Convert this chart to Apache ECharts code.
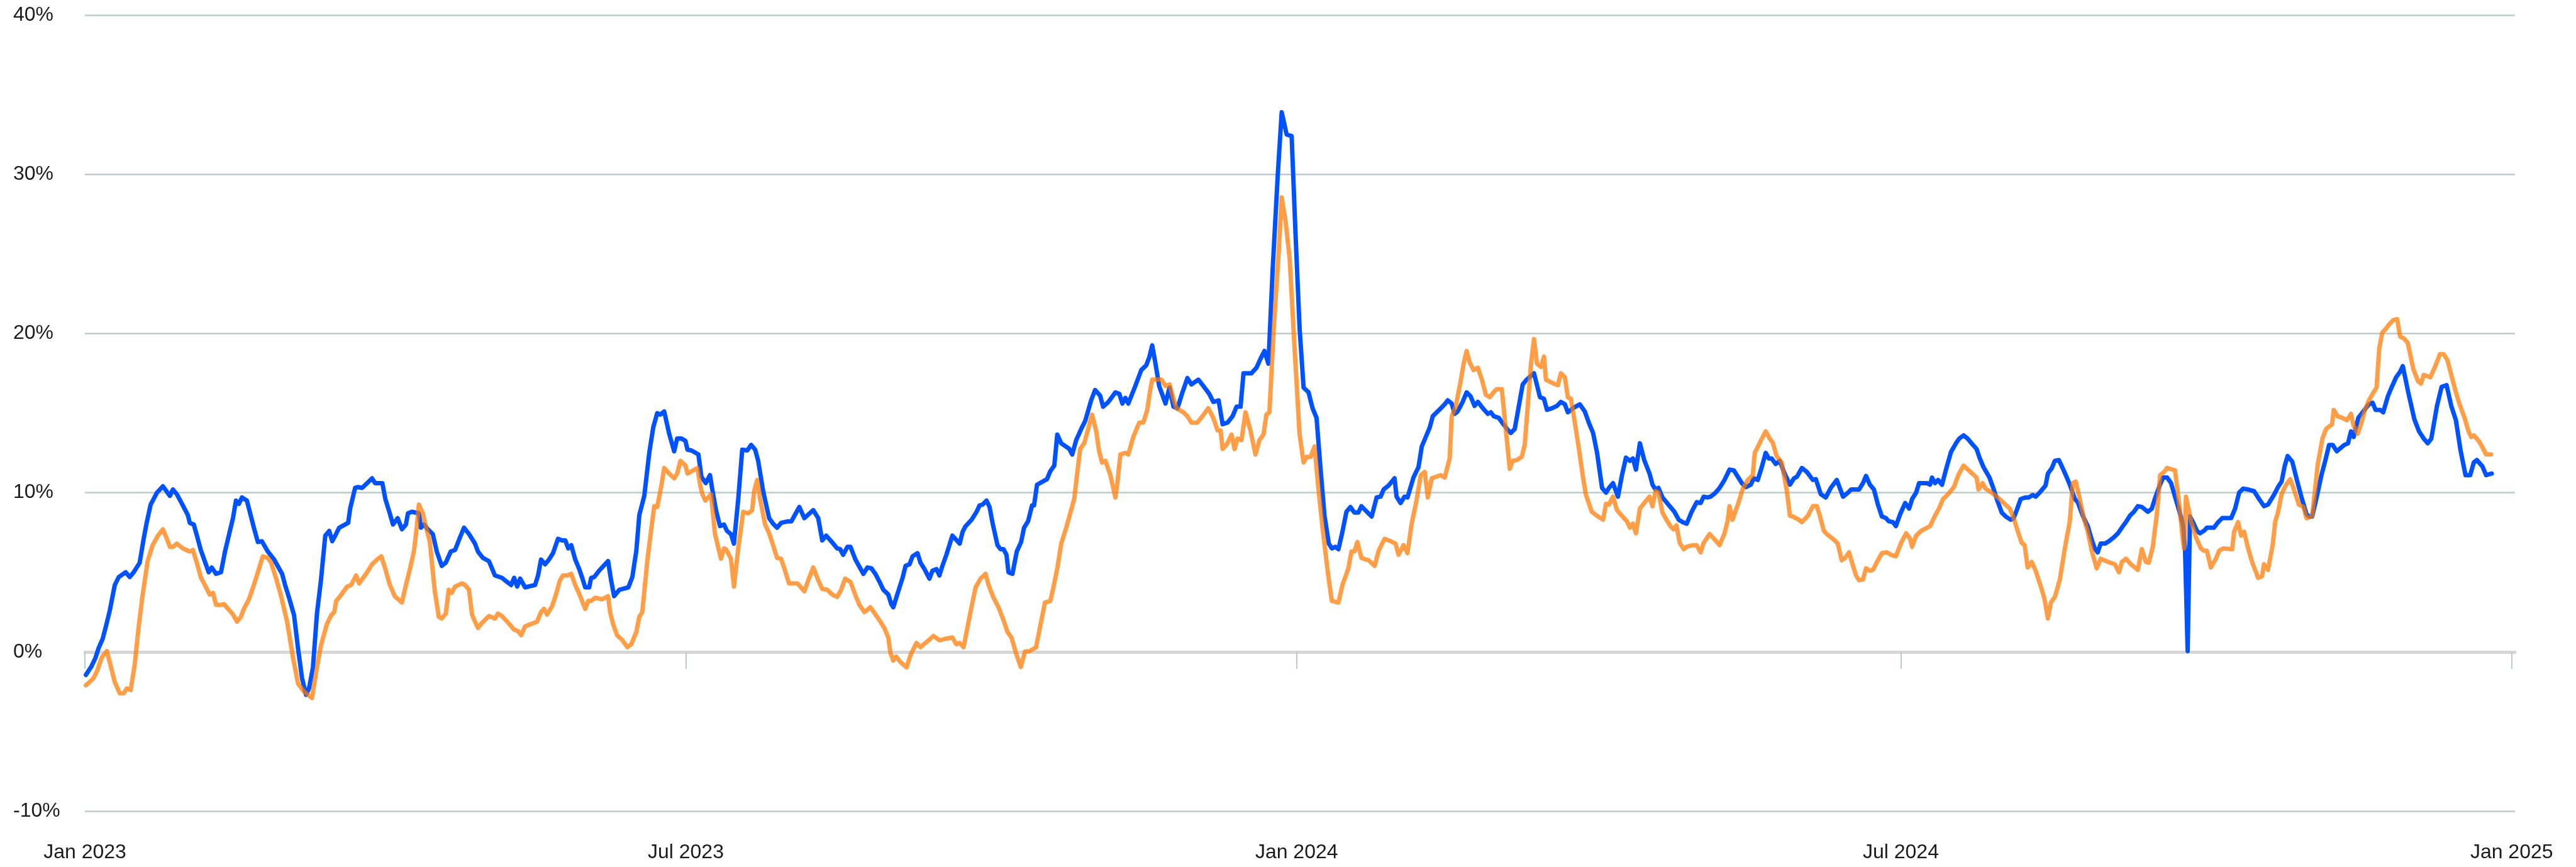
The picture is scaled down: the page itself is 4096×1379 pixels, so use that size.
<!DOCTYPE html>
<html lang="en">
<head>
<meta charset="UTF-8">
<script src="https://cdn.jsdelivr.net/npm/echarts@6/dist/echarts.min.js"></script>
<style>
    html, body {
        margin: 0;
        width: 100%;
        height: 100%;
        background: #fff;
    }
    #main {
        width: 4096px;
        height: 1379px;
    }
</style>
</head>
<body>
<div id="main"></div>

<script type="text/javascript">
    // x values are days counted from 1 Jan 2023
    const tickDays = [0, 181, 365, 547, 731];
    const tickLabels = ['Jan 2023', 'Jul 2023', 'Jan 2024', 'Jul 2024', 'Jan 2025'];

    // [day, percent]
    const blueSeries = [
        [0.3,-1.45],[2.0,-0.9],[3.2,-0.37],[4.1,0.22],[5.35,0.82],[6.3,1.58],[7.5,2.6],[9.0,4.2],[10.2,4.7],[12.3,5.0],[13.5,4.7],[14.7,5.0],[16.5,5.6],[17.7,7.1],[18.6,8.1],[19.8,9.25],[21.7,10.0],[23.5,10.4],[25.6,9.8],[26.5,10.2],[27.7,9.9],[29.5,9.2],[31.0,8.6],[31.6,8.1],[32.8,8.0],[34.0,7.1],[34.9,6.4],[37.3,5.0],[38.2,5.3],[39.5,4.9],[41.0,5.0],[42.2,6.3],[44.6,8.4],[45.5,9.5],[46.4,9.3],[47.3,9.7],[48.8,9.5],[50.9,7.8],[52.1,6.9],[53.3,6.95],[55.1,6.3],[57.0,5.8],[59.4,4.9],[60.3,4.2],[61.5,3.4],[63.0,2.3],[64.2,0.22],[65.4,-1.65],[66.6,-2.7],[67.5,-2.3],[68.7,-0.97],[69.9,2.4],[71.1,4.5],[72.4,7.3],[73.6,7.6],[74.5,6.95],[75.4,7.3],[76.6,7.8],[79.3,8.1],[79.9,9.0],[81.4,10.3],[82.3,10.35],[83.5,10.3],[85.0,10.6],[86.5,10.9],[87.4,10.6],[89.6,10.6],[90.5,9.6],[91.7,8.8],
        [92.8,8.0],[94.2,8.4],[95.5,7.7],[96.7,8.0],[97.3,8.7],[98.5,8.8],[100.6,8.7],[101.2,7.8],[102.1,8.0],[103.3,7.7],[104.8,7.4],[106.0,6.3],[107.5,5.4],[108.7,5.6],[110.2,6.3],[111.5,6.4],[113.0,7.2],[114.2,7.8],[115.7,7.4],[117.5,6.8],[118.4,6.3],[119.9,5.9],[121.7,5.7],[122.9,5.1],[123.5,4.8],[125.6,4.65],[126.5,4.5],[128.4,4.2],[129.3,4.65],[130.2,4.1],[131.1,4.6],[132.6,4.05],[135.6,4.2],[136.5,4.8],[137.4,5.8],[138.6,5.5],[139.8,5.8],[141.0,6.2],[142.5,7.1],[143.7,7.0],[144.7,7.0],[145.6,6.5],[146.5,6.7],[147.7,5.8],[148.9,5.2],[149.8,4.65],[150.7,4.05],[151.9,4.05],[152.5,4.65],[153.4,4.7],[154.9,5.1],[157.6,5.7],[158.5,4.5],[159.4,3.5],[161.0,3.9],[163.7,4.05],[164.9,4.7],[166.1,6.35],[167.0,8.6],[168.5,9.8],[170.0,12.5],[171.2,14.1],[172.4,15.0],[173.3,14.9],[174.5,15.1],[176.0,13.7],[177.5,12.6],[178.4,13.4],[179.7,13.4],[180.9,13.25],[181.5,12.7],[182.7,12.65],[184.8,12.4],[185.7,11.0],[187.0,10.6],
        [188.3,11.1],[188.9,10.3],[190.1,8.9],[191.3,7.9],[192.5,8.0],[193.4,7.6],[194.6,7.4],[195.5,6.8],[196.8,9.6],[198.0,12.7],[199.5,12.65],[200.7,13.0],[201.9,12.7],[202.8,12.0],[204.3,10.1],[206.1,8.4],[207.3,8.05],[208.5,7.8],[209.7,8.1],[211.8,8.2],[212.8,8.2],[214.0,8.65],[215.2,9.1],[216.7,8.4],[219.4,8.9],[220.9,8.4],[222.1,7.0],[223.3,7.3],[224.8,6.95],[226.6,6.5],[227.5,6.45],[228.4,6.1],[229.7,6.6],[230.6,6.6],[232.1,5.8],[234.5,4.9],[235.7,5.3],[236.9,5.25],[238.1,4.9],[239.6,4.3],[240.5,3.9],[242.0,3.6],[242.9,3.0],[243.5,2.8],[244.7,3.6],[246.3,4.65],[247.2,5.4],[248.4,5.5],[249.3,6.0],[250.8,6.2],[251.7,5.6],[252.9,5.2],[254.4,4.6],[255.3,5.1],[256.5,5.2],[257.4,4.8],[258.3,5.4],[259.5,6.1],[261.3,7.3],[263.5,6.8],[264.4,7.55],[265.3,7.9],[267.1,8.3],[268.6,8.8],[269.5,9.2],[270.4,9.25],[271.6,9.5],[272.5,9.1],[273.4,8.1],[274.9,6.7],[275.8,6.45],[276.7,6.45],[277.6,6.1],[278.2,5.0],[279.4,4.9],[280.7,6.3],
        [282.0,6.9],[282.9,7.8],[284.1,8.2],[285.3,9.2],[285.9,9.2],[286.8,10.5],[289.8,10.85],[290.8,11.35],[292.0,11.7],[292.9,13.65],[294.1,13.1],[296.5,12.75],[297.4,12.4],[298.6,13.3],[300.1,14.0],[301.3,14.5],[303.1,15.8],[304.3,16.45],[305.8,16.1],[306.7,15.4],[308.3,15.7],[310.4,16.3],[311.6,16.2],[312.5,15.6],[313.4,15.95],[314.3,15.6],[316.4,16.7],[318.2,17.7],[319.7,18.0],[320.6,18.5],[321.5,19.25],[322.4,18.2],[323.6,16.7],[325.5,15.6],[326.7,16.6],[327.9,15.4],[329.1,15.3],[330.6,16.3],[332.1,17.2],[333.3,16.8],[335.4,17.1],[336.9,16.7],[338.7,16.2],[339.9,15.7],[341.5,15.8],[342.7,14.3],[344.2,14.4],[345.7,14.8],[346.9,15.4],[348.1,15.4],[349.0,17.5],[351.4,17.5],[352.9,17.85],[354.1,18.4],[355.3,18.9],[356.5,18.1],[357.8,24.1],[359.3,29.9],[360.5,33.9],[362.0,32.5],[363.5,32.4],[364.7,26.1],[365.9,20.3],[367.1,16.6],[368.6,16.3],[369.8,15.3],[371.0,14.7],[372.2,11.5],[373.4,8.55],[374.7,6.8],[375.6,6.5],
        [376.7,6.6],[377.6,6.45],[378.8,7.55],[380.0,8.8],[381.2,9.1],[382.4,8.75],[383.6,8.75],[384.5,9.15],[386.4,8.75],[387.6,8.5],[389.1,9.7],[390.3,9.75],[391.2,10.2],[392.7,10.45],[394.5,10.9],[395.1,9.75],[396.3,9.35],[397.5,9.75],[398.4,9.7],[400.2,10.95],[401.7,11.6],[402.7,12.9],[403.9,13.5],[405.1,14.1],[406.0,14.8],[407.2,15.05],[408.4,15.3],[409.6,15.55],[410.5,15.8],[411.7,15.6],[412.6,14.95],[413.5,15.1],[415.0,15.7],[416.2,16.3],[417.4,16.05],[418.6,15.45],[419.6,15.7],[421.1,15.3],[422.6,14.95],[423.5,15.05],[424.4,14.8],[425.9,14.7],[427.1,14.35],[428.6,13.95],[429.5,13.75],[430.7,14.0],[431.9,15.4],[433.1,16.8],[434.3,17.1],[436.5,17.5],[437.7,16.5],[438.3,16.0],[439.5,15.9],[440.4,15.2],[441.9,15.3],[443.4,15.45],[444.6,15.7],[445.8,15.55],[446.7,15.05],[448.2,15.3],[450.3,15.55],[451.8,15.1],[453.1,14.35],[454.3,13.75],[455.5,12.5],[457.0,10.3],[458.2,10.0],[459.1,10.3],[460.3,10.6],[461.8,9.75],[463.0,11.1],[464.2,12.2],[465.4,12.0],[466.3,12.15],[467.2,11.45],[468.4,13.1],[469.7,12.05],
        [471.3,11.2],[472.2,10.5],[473.1,10.2],[474.0,10.3],[475.2,9.7],[477.6,9.1],[478.8,8.8],[480.1,8.3],[481.3,8.15],[482.5,8.05],[484.0,8.8],[485.5,9.4],[486.7,9.35],[487.6,9.75],[488.8,9.7],[489.7,9.75],[491.2,10.0],[492.4,10.3],[493.9,10.8],[495.4,11.45],[496.7,11.4],[499.1,10.6],[500.3,10.35],[501.8,10.5],[502.7,10.9],[503.9,10.8],[505.1,11.6],[506.3,12.5],[507.2,12.15],[508.1,12.15],[509.3,11.8],[510.5,12.0],[512.0,11.2],[513.6,10.5],[514.8,10.9],[515.7,11.0],[517.2,11.55],[518.7,11.3],[519.6,11.05],[520.5,10.8],[521.4,10.85],[522.9,9.9],[524.4,9.7],[525.9,10.3],[527.7,10.8],[529.6,9.75],[531.1,10.0],[532.0,10.2],[534.4,10.2],[535.6,10.6],[536.5,11.05],[537.7,10.5],[538.9,10.2],[540.1,9.25],[541.3,8.5],[542.5,8.4],[543.4,8.2],[544.6,8.15],[545.5,7.9],[546.8,8.65],[548.3,9.35],[549.5,9.0],[550.4,9.6],[551.6,10.0],[552.5,10.6],[554.9,10.6],[555.8,10.5],[556.4,10.95],[557.3,10.6],[558.2,10.8],[559.4,10.5],[560.6,11.45],[562.1,12.55],[563.6,13.1],[564.6,13.4],
        [565.9,13.6],[567.1,13.4],[568.3,13.1],[569.8,12.75],[570.7,12.2],[571.9,11.6],[573.7,10.95],[575.0,10.2],[575.9,9.6],[577.4,8.75],[578.6,8.5],[580.1,8.3],[581.0,8.4],[581.9,8.9],[583.1,9.6],[584.6,9.7],[585.5,9.7],[586.7,9.85],[587.6,9.75],[588.8,10.0],[590.6,10.45],[591.3,11.2],[592.5,11.55],[593.4,12.0],[594.6,12.05],[595.5,11.65],[596.7,11.1],[597.9,10.5],[599.4,9.6],[600.3,9.4],[601.8,8.55],[603.3,7.9],[604.5,7.05],[605.4,6.5],[606.3,6.25],[607.2,6.8],[608.5,6.8],[609.7,6.95],[611.2,7.2],[612.4,7.45],[613.9,7.9],[614.8,8.15],[616.0,8.55],[617.2,8.8],[618.4,9.15],[619.6,9.1],[621.4,8.8],[622.6,9.0],[623.5,9.6],[624.8,10.35],[626.0,10.95],[627.2,10.95],[628.4,10.6],[629.6,9.75],[630.8,8.9],[632.0,8.0],[632.6,6.5],[633.4,0.05],[634.1,8.5],[635.0,8.15],[636.2,7.6],[637.1,7.45],[638.3,7.6],[639.2,7.8],[641.3,7.8],[642.6,8.15],[643.8,8.4],[646.5,8.4],[647.7,9.0],[648.9,10.0],[650.1,10.25],[651.6,10.2],[653.4,10.1],[654.6,9.7],[656.4,9.15],[657.6,9.25],[659.5,9.9],
        [660.6,10.35],[661.7,10.7],[662.6,11.65],[663.5,12.3],[664.9,11.95],[666.3,10.8],[667.7,9.7],[669.2,8.65],[670.0,8.5],[670.9,8.5],[672.3,9.75],[673.7,11.1],[674.9,12.05],[676.0,13.0],[677.1,13.0],[678.3,12.6],[680.6,13.0],[681.7,13.1],[682.6,13.85],[683.4,13.5],[684.8,14.7],[686.3,15.1],[688.0,15.55],[689.1,15.65],[690.0,15.2],[691.4,15.2],[692.3,15.05],[693.7,16.05],[694.8,16.6],[696.2,17.25],[697.4,17.6],[698.2,17.95],[699.9,16.25],[701.7,14.6],[703.1,13.85],[704.5,13.4],[705.7,13.1],[706.8,13.4],[708.5,15.45],[709.9,16.65],[711.4,16.75],[712.8,15.45],[714.2,14.55],[715.6,12.65],[717.1,11.1],[718.5,11.1],[719.6,11.9],[720.5,12.05],[722.2,11.65],[723.3,11.1],[725.0,11.2]
    ];

    const orangeSeries = [
        [0.3,-2.1],[1.4,-1.9],[2.6,-1.65],[3.8,-1.14],[5.05,-0.37],[6.6,0.05],[7.8,-0.9],[9.0,-1.9],[10.5,-2.6],[11.7,-2.6],[12.6,-2.3],[13.8,-2.4],[15.0,-0.8],[16.2,1.6],[17.4,3.6],[18.9,5.7],[20.4,6.7],[22.0,7.3],[23.5,7.7],[24.7,7.1],[25.6,6.6],[26.5,6.6],[27.7,6.8],[29.5,6.5],[31.6,6.3],[32.5,6.4],[33.7,5.6],[34.9,4.7],[37.6,3.6],[38.6,3.7],[39.5,2.95],[41.0,2.95],[41.9,3.0],[44.6,2.35],[45.8,1.9],[47.0,2.2],[47.9,2.7],[49.4,3.3],[50.9,4.2],[52.4,5.2],[53.6,6.0],[55.1,5.9],[56.1,5.6],[57.6,4.6],[59.1,3.5],[60.9,1.9],[62.7,-0.37],[64.2,-2.0],[66.0,-2.5],[67.2,-2.7],[68.4,-2.9],[69.9,-0.97],[71.1,0.4],[72.9,1.75],[74.2,2.3],[75.1,2.5],[75.7,3.2],[76.9,3.5],[79.0,4.1],[80.2,4.2],[81.7,4.8],[82.6,4.3],[85.0,5.0],[86.5,5.5],[88.0,5.8],[89.3,6.0],[90.5,5.2],[91.7,4.3],
        [93.3,3.5],[95.5,3.1],[96.7,4.2],[97.9,5.2],[99.1,6.3],[100.0,7.9],[100.6,9.25],[101.8,8.7],[102.7,7.9],[103.9,6.9],[105.4,3.8],[106.6,2.2],[107.5,2.1],[108.7,2.4],[109.6,3.9],[110.5,3.7],[111.5,4.1],[113.6,4.3],[114.5,4.2],[115.7,3.9],[116.6,2.35],[117.5,1.9],[118.4,1.5],[119.3,1.75],[121.7,2.25],[123.5,2.1],[124.4,2.4],[125.6,2.25],[127.4,1.85],[129.3,1.4],[130.5,1.3],[131.4,1.05],[132.6,1.6],[134.4,1.75],[136.2,1.9],[137.4,2.5],[138.3,2.7],[139.2,2.35],[140.7,2.85],[141.9,3.6],[143.1,4.5],[144.0,4.8],[145.3,4.8],[146.5,4.9],[147.7,4.2],[149.2,3.5],[150.7,2.7],[151.6,3.2],[152.5,3.2],[153.7,3.4],[155.8,3.3],[157.6,3.5],[158.2,2.5],[159.1,1.75],[160.3,1.05],[161.9,0.73],[163.4,0.3],[164.6,0.48],[166.1,1.25],[167.0,2.2],[167.9,2.5],[169.4,5.7],[170.9,8.2],[171.5,9.15],[172.4,9.1],[173.6,10.4],[174.5,11.55],[176.0,11.2],[177.5,10.9],[178.4,11.2],[179.4,12.0],[180.9,11.7],[181.5,11.2],[184.5,11.55],[185.4,10.4],[186.0,9.9],[186.9,9.5],
        [188.6,9.9],[189.8,7.4],[191.6,5.85],[192.5,6.5],[193.1,6.45],[194.6,5.85],[195.5,4.1],[196.8,6.5],[198.3,8.8],[199.8,8.7],[201.0,8.9],[201.6,10.1],[202.5,10.8],[203.4,9.6],[204.9,8.0],[206.1,7.45],[207.3,6.7],[208.5,5.9],[209.7,5.85],[210.9,5.1],[212.1,4.3],[214.6,4.3],[215.5,4.1],[216.7,3.8],[217.9,4.5],[219.4,5.3],[220.9,4.5],[222.1,3.95],[223.6,3.9],[225.1,3.6],[226.6,3.45],[227.8,3.9],[229.0,4.6],[230.6,4.4],[232.1,3.55],[233.3,2.95],[234.8,2.5],[236.6,2.8],[237.8,2.45],[239.3,2.0],[240.8,1.5],[242.0,0.9],[242.6,-0.03],[243.5,-0.55],[244.4,-0.3],[245.6,-0.63],[247.5,-0.97],[248.7,-0.2],[250.5,0.56],[251.7,0.3],[253.2,0.56],[254.7,0.82],[255.6,1.0],[257.4,0.73],[259.2,0.82],[261.3,0.9],[262.5,0.48],[263.5,0.56],[264.7,0.3],[265.9,1.6],[267.1,2.85],[268.3,4.05],[269.8,4.6],[271.3,4.9],[272.2,4.2],[273.7,3.4],[275.2,2.8],[276.7,2.0],[277.9,1.25],[279.1,0.9],[280.4,-0.03],[281.9,-0.95],
        [283.2,0.03],[284.4,0.03],[286.5,0.28],[287.7,1.55],[289.2,3.1],[290.8,3.2],[291.7,4.0],[292.9,5.25],[294.1,6.8],[295.6,7.8],[296.8,8.7],[298.0,9.6],[298.9,11.2],[299.8,12.75],[301.0,13.1],[302.2,14.0],[303.4,14.9],[304.6,13.9],[305.5,12.6],[306.4,11.9],[307.4,12.0],[308.9,11.1],[310.4,9.7],[311.0,10.6],[311.9,12.4],[313.4,12.5],[314.3,12.4],[315.8,13.5],[317.6,14.4],[318.8,14.4],[320.0,15.2],[320.9,16.45],[321.5,17.1],[324.3,17.1],[325.5,16.7],[326.7,16.8],[327.9,15.9],[328.8,15.3],[330.9,15.05],[332.1,14.8],[333.3,14.4],[335.1,14.4],[336.6,14.8],[338.4,15.3],[339.9,14.7],[341.2,13.9],[342.1,13.9],[342.7,12.75],[343.9,13.0],[345.4,13.65],[346.3,12.75],[347.2,13.4],[348.4,13.3],[349.6,15.05],[351.1,13.9],[352.6,12.4],[353.8,13.3],[355.0,13.65],[355.9,14.9],[356.8,15.05],[358.1,20.3],[359.6,25.1],[360.5,28.55],[361.7,27.0],[362.9,24.7],[364.4,19.0],[365.9,13.65],[367.1,11.9],[368.0,12.25],[369.2,12.25],[370.4,12.9],[371.6,10.2],[372.8,7.8],[374.4,5.0],[375.6,3.2],
        [377.6,3.1],[378.8,4.2],[380.6,5.25],[381.5,6.3],[382.4,6.3],[383.3,6.9],[384.5,5.9],[386.7,5.75],[388.5,5.4],[389.7,6.35],[391.5,7.1],[393.3,6.95],[394.8,6.8],[395.7,6.1],[397.2,6.7],[398.4,6.2],[399.6,8.0],[401.1,9.5],[402.4,11.1],[403.6,11.3],[404.5,9.7],[405.7,10.9],[408.4,11.1],[409.6,10.95],[411.1,12.15],[411.7,14.8],[412.9,15.4],[414.4,17.0],[415.3,18.1],[416.2,18.9],[417.1,18.2],[418.3,17.7],[419.6,17.85],[420.8,17.1],[422.0,16.15],[423.2,16.0],[424.7,16.4],[425.3,16.5],[426.8,16.5],[428.0,14.0],[429.2,11.5],[430.1,12.0],[431.3,12.05],[432.8,12.25],[433.7,13.0],[434.6,15.4],[435.6,18.1],[436.5,19.65],[437.4,18.1],[438.6,17.9],[439.5,18.55],[440.1,17.1],[441.0,17.0],[442.5,16.85],[443.7,16.75],[444.6,17.5],[445.8,17.25],[446.7,16.0],[447.6,15.9],[448.5,14.8],[450.0,12.8],[451.2,11.05],[452.1,9.9],[453.9,8.8],[455.8,8.5],[457.3,8.3],[458.2,9.3],[459.1,9.25],[460.3,9.75],[461.5,8.9],[463.0,8.55],[464.5,8.2],[465.4,7.8],[466.3,8.05],[467.2,7.45],[468.4,9.0],[469.9,9.4],
        [471.3,9.75],[472.2,9.15],[473.1,10.1],[474.0,10.0],[475.2,8.75],[476.4,8.3],[477.6,7.9],[478.5,7.7],[479.4,7.95],[480.4,6.85],[481.6,6.45],[482.5,6.6],[484.3,6.7],[485.5,6.7],[486.7,6.25],[487.6,6.85],[489.4,7.4],[491.0,7.05],[492.4,6.7],[493.9,7.45],[494.8,8.2],[495.4,9.15],[496.3,8.3],[497.9,9.25],[499.4,10.25],[500.9,10.8],[502.4,11.1],[503.0,12.5],[504.2,13.0],[505.4,13.5],[506.3,13.85],[507.5,13.4],[508.4,13.15],[509.6,12.3],[511.1,11.9],[512.6,10.2],[513.6,8.55],[514.5,8.5],[516.3,8.3],[517.2,8.15],[519.0,8.55],[520.5,9.15],[521.7,9.15],[522.6,8.55],[523.8,7.6],[524.7,7.4],[525.9,7.2],[526.8,7.05],[528.0,6.8],[529.2,5.75],[530.2,5.9],[531.4,6.25],[532.6,5.4],[533.5,4.8],[534.4,4.5],[535.6,4.55],[536.5,5.25],[537.7,5.1],[538.6,5.15],[540.1,5.75],[541.3,6.2],[542.8,6.25],[544.0,6.1],[545.5,6.0],[547.1,6.85],[548.6,7.45],[549.8,7.1],[550.4,6.6],[551.6,7.3],[553.1,7.6],[555.8,7.9],[557.3,8.55],[558.5,9.0],[559.7,9.6],[561.0,9.85],[563.0,10.35],[564.3,11.1],
        [565.9,11.7],[568.0,11.3],[569.8,10.95],[570.4,10.2],[571.6,10.6],[572.5,10.25],[573.7,10.1],[576.2,9.7],[578.0,9.35],[579.8,9.0],[581.0,8.4],[582.5,7.4],[583.4,6.85],[584.3,6.7],[585.2,5.3],[586.4,5.65],[587.6,5.1],[589.4,3.95],[590.3,3.3],[591.3,2.1],[592.2,3.1],[593.4,3.45],[594.9,4.55],[596.4,6.5],[597.9,8.2],[598.8,10.6],[599.7,10.7],[600.9,9.6],[602.1,8.4],[603.3,7.55],[604.5,6.35],[606.0,5.25],[607.2,5.85],[609.4,5.65],[611.5,5.5],[612.7,5.0],[613.6,5.65],[614.8,5.85],[616.3,5.5],[618.4,5.15],[619.6,6.45],[620.8,5.65],[621.7,5.6],[622.9,6.6],[624.2,8.8],[625.1,11.1],[626.3,11.3],[627.2,11.55],[629.6,11.4],[630.8,9.35],[632.0,6.95],[632.3,6.5],[632.9,9.75],[634.4,8.2],[635.9,7.2],[637.4,6.5],[638.3,6.35],[639.2,6.35],[640.4,5.3],[641.9,5.85],[642.9,6.35],[644.1,6.5],[646.8,6.45],[647.4,7.55],[648.6,8.15],[649.5,7.3],[650.4,7.55],[651.6,6.5],[652.8,5.65],[654.0,5.0],[654.6,4.65],[655.8,4.75],[656.4,5.5],[657.6,5.15],[659.0,6.7],[659.8,8.2],
        [660.6,8.75],[661.7,9.9],[662.9,10.45],[664.3,10.85],[665.4,10.2],[666.9,9.25],[668.3,9.1],[669.2,8.4],[670.9,8.5],[672.6,11.8],[674.0,13.4],[675.1,14.0],[676.9,14.3],[677.4,15.2],[678.6,14.8],[680.0,14.7],[681.4,14.55],[682.6,14.95],[683.4,14.2],[684.6,13.7],[685.7,14.35],[686.8,15.2],[688.0,15.8],[689.4,16.3],[690.3,16.6],[691.1,19.05],[692.0,20.05],[693.1,20.3],[694.2,20.6],[695.4,20.85],[696.5,20.9],[697.4,19.8],[698.5,19.7],[699.7,19.4],[701.4,17.75],[702.8,17.0],[703.7,16.85],[704.5,17.4],[706.5,17.25],[708.0,17.95],[709.4,18.7],[710.5,18.7],[711.6,18.35],[712.8,17.4],[714.2,16.3],[715.3,15.55],[716.8,14.7],[718.0,13.85],[718.8,13.5],[719.6,13.6],[721.1,13.25],[722.2,12.85],[723.3,12.4],[724.8,12.4]
    ];

    const fontFamily = '"Liberation Sans", Arial, sans-serif';
    const textColor = '#1a1a1a';
    const gridColor = '#bccaca';

    let myChart = echarts.init(document.getElementById('main'));

    let option = {
        animation: false,
        grid: {
            left: 135,
            right: 97,
            top: 24,
            bottom: 89,
            outerBoundsMode: 'none'
        },
        xAxis: [
            {
                // labels along the bottom
                type: 'value',
                min: 0,
                max: 732,
                position: 'bottom',
                axisLine: {show: false, onZero: false},
                axisTick: {show: false},
                splitLine: {show: false},
                axisLabel: {
                    customValues: tickDays,
                    margin: 50,
                    fontSize: 32,
                    color: textColor,
                    fontFamily: fontFamily,
                    formatter: function (v) {
                        return tickLabels[tickDays.indexOf(v)];
                    }
                }
            },
            {
                // zero line with the ticks
                type: 'value',
                min: 0,
                max: 732,
                position: 'bottom',
                axisLine: {show: true, onZero: true, lineStyle: {color: '#d6d6d6', width: 5}},
                axisTick: {show: true, customValues: tickDays, length: 27, lineStyle: {color: gridColor, width: 2}},
                axisLabel: {show: false},
                splitLine: {show: false}
            }
        ],
        yAxis: {
            type: 'value',
            min: -10,
            max: 40,
            interval: 10,
            axisLine: {show: false},
            axisTick: {show: false},
            splitLine: {lineStyle: {color: gridColor, width: 2.5}},
            axisLabel: {
                align: 'left',
                margin: 114,
                fontSize: 32,
                color: textColor,
                fontFamily: fontFamily,
                formatter: '{value}%'
            }
        },
        series: [
            {
                name: 'blue',
                type: 'line',
                data: blueSeries,
                symbol: 'none',
                silent: true,
                z: 2,
                lineStyle: {color: '#0052ff', width: 7, join: 'round', cap: 'round'}
            },
            {
                name: 'orange',
                type: 'line',
                data: orangeSeries,
                symbol: 'none',
                silent: true,
                z: 3,
                lineStyle: {color: '#ff7800', width: 7, opacity: 0.72, join: 'round', cap: 'round'}
            }
        ]
    };

    myChart.setOption(option);
</script>
</body>
</html>
